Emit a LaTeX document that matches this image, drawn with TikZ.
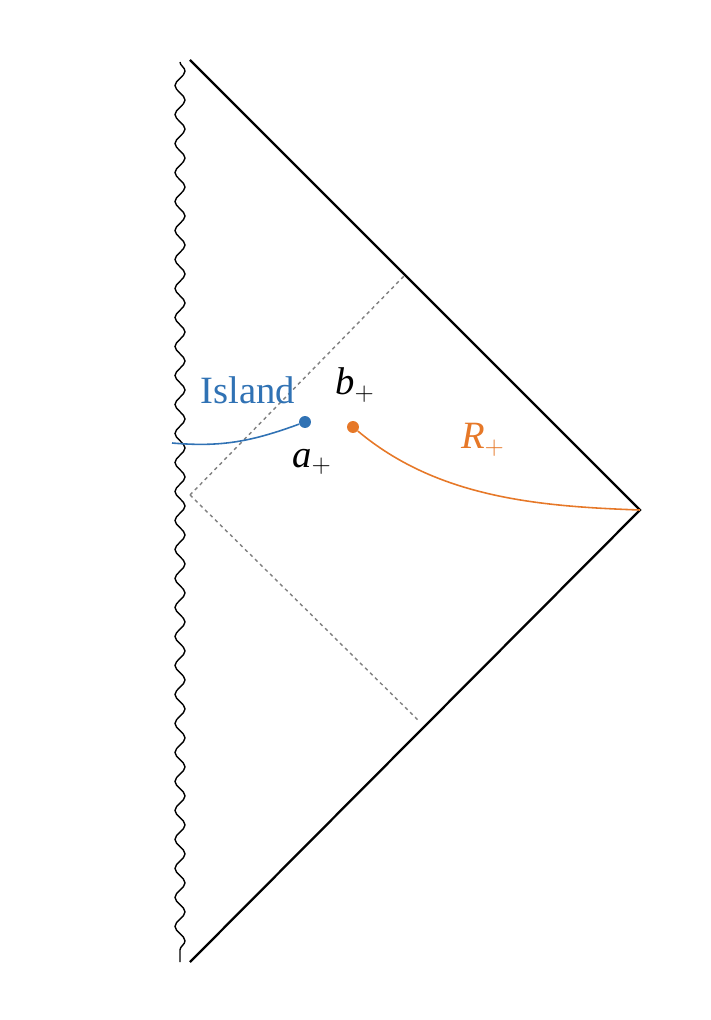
\documentclass[tikz,border=0pt]{standalone}
\usepackage{fontspec}
\setmainfont{Liberation Serif}
\usetikzlibrary{decorations.pathmorphing}
\definecolor{islandblue}{RGB}{48,114,180}
\definecolor{radorange}{RGB}{230,120,40}
\begin{document}
\begin{tikzpicture}[x=0.02cm,y=-0.02cm,
    horizon/.style={gray, line width=0.8pt, dash pattern=on 2pt off 2pt},
    lbl/.style={font=\fontsize{22}{26}\selectfont}]
    \useasboundingbox (0,0) rectangle (710,1020);
    \coordinate (top) at (190,60);
    \coordinate (right) at (640,510);
    \coordinate (bot) at (190,962);
    \coordinate (mid) at (190,495);
    \coordinate (hu) at (405,275);
    \coordinate (hd) at (420,722);
    \coordinate (edge) at (172,443);
    % singularity
    \draw[line width=0.8pt, decorate, decoration={snake, amplitude=0.1cm, segment length=0.58cm}] (180,62) -- (180,962);
    \draw[line width=1.3pt] (top) -- (right) -- (bot);
    \draw[horizon] (mid) -- (hu);
    \draw[horizon] (mid) -- (hd);
    % island and radiation
    \node[circle, fill=islandblue, inner sep=2.4pt] (a) at (305,422) {};
    \node[circle, fill=radorange, inner sep=2.4pt] (b) at (353,427) {};
    \draw[islandblue, line width=0.9pt] (edge) to[out=-5, in=200] (a);
    \draw[radorange, line width=0.9pt] (b) to[out=-40, in=178, looseness=0.9] (right);
    \node[lbl, text=islandblue] (island) at (248,390) {Island};
    \node[lbl] (bl) at (355,385) {\textit{b}$_+$};
    \node[lbl] (al) at (312,462) {\textit{a}$_+$};
    \node[lbl, text=radorange] (rl) at (483,440) {\textit{R}$_+$};
\end{tikzpicture}
\end{document}
